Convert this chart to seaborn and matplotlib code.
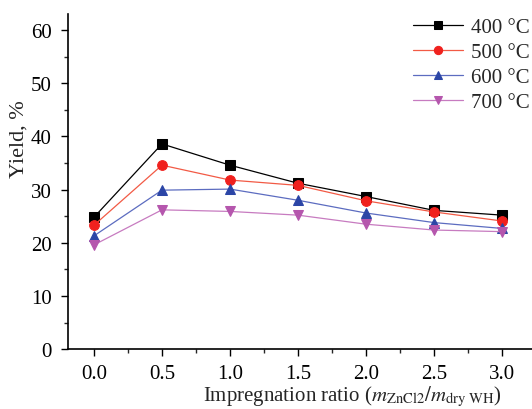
import matplotlib
matplotlib.use("Agg")
import matplotlib.pyplot as plt
import seaborn as sns
import pandas as pd
from matplotlib.ticker import MultipleLocator

ratio = [0.0, 0.5, 1.0, 1.5, 2.0, 2.5, 3.0]
y400 = [24.8, 38.6, 34.6, 31.2, 28.7, 26.1, 25.2]
y500 = [23.3, 34.6, 31.8, 30.8, 27.9, 25.8, 24.1]
y600 = [21.3, 29.9, 30.1, 28.0, 25.6, 23.8, 22.7]
y700 = [19.6, 26.2, 25.9, 25.2, 23.5, 22.4, 22.1]
labels = ["400 °C", "500 °C", "600 °C", "700 °C"]

sns.set_style("ticks")
plt.rcParams['font.family'] = ['Liberation Serif', 'DejaVu Serif']
plt.rcParams['mathtext.fontset'] = 'stix'

df = pd.DataFrame({
    "ratio": ratio * 4,
    "yield": y400 + y500 + y600 + y700,
    "temp": sum([[l] * len(ratio) for l in labels], []),
})

colors = ["#000000", "#f0211e", "#2b45a6", "#b556ad"]
line_colors = ["#000000", "#f25a45", "#5c6cc0", "#c77bc0"]
markers = ["s", "o", "^", "v"]

fig, ax = plt.subplots(figsize=(5.32, 4.10), dpi=100)
for lab, c, lc, m in zip(labels, colors, line_colors, markers):
    sub = df[df["temp"] == lab]
    sns.lineplot(data=sub, x="ratio", y="yield", ax=ax, color=lc, lw=0.9,
                 marker=m, markersize=7, markerfacecolor=c, markeredgecolor=c,
                 label=lab)

ax.set_xlim(-0.19, 3.22)
ax.set_ylim(0, 63)
ax.set_xticks(ratio)
ax.set_xticklabels([f"{v:.1f}" for v in ratio])
ax.set_yticks([0, 10, 20, 30, 40, 50, 60])
ax.xaxis.set_minor_locator(MultipleLocator(0.25))
ax.yaxis.set_minor_locator(MultipleLocator(5))
ax.tick_params(axis='both', which='major', direction='out', length=5, width=1,
               labelsize=15, colors='black', pad=7)
ax.tick_params(axis='x', which='major', pad=6)
ax.tick_params(axis='both', which='minor', direction='out', length=3, width=1)
for s in ["top", "right"]:
    ax.spines[s].set_visible(False)
for s in ["left", "bottom"]:
    ax.spines[s].set_linewidth(1.2)
    ax.spines[s].set_color('black')

ax.set_xlabel(r"Impregnation ratio ($m_{\mathrm{ZnCl2}}/m_{\mathrm{dry\ WH}}$)", fontsize=15)
ax.xaxis.set_label_coords(0.612, -0.104)
ax.set_ylabel("Yield, %", fontsize=16)
ax.yaxis.set_label_coords(-0.085, 0.63)

leg = ax.legend(loc="upper right", frameon=False, fontsize=15, handlelength=2.4,
                bbox_to_anchor=(1.035, 1.045), labelspacing=0.25, markerscale=0.85,
                handletextpad=0.4)

fig.subplots_adjust(left=0.128, right=1.0, bottom=0.146, top=0.963)
fig.savefig("out.png", dpi=100)
